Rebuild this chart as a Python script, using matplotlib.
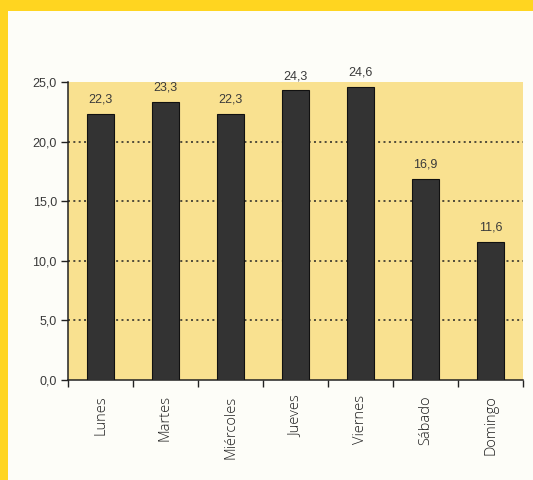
import matplotlib
matplotlib.use("Agg")
import matplotlib.pyplot as plt
from matplotlib.patches import Rectangle
from matplotlib.ticker import FixedLocator

categories = ["Lunes", "Martes", "Miércoles", "Jueves", "Viernes", "Sábado", "Domingo"]
values = [22.3, 23.3, 22.3, 24.3, 24.6, 16.9, 11.6]
y_ticks = [0, 5, 10, 15, 20, 25]

W, H = 533, 480
fig = plt.figure(figsize=(W / 100, H / 100), dpi=100)
fig.patch.set_facecolor("#FDFDF8")
# yellow frame on top and left
fig.patches.append(Rectangle((0, 0), 8 / W, 1, transform=fig.transFigure,
                             facecolor="#FFD520", edgecolor="none", zorder=0))
fig.patches.append(Rectangle((0, 1 - 11 / H), 1, 11 / H, transform=fig.transFigure,
                             facecolor="#FFD520", edgecolor="none", zorder=0))

left, right, top, bottom = 68, 523, 82, 380
ax = fig.add_axes([left / W, 1 - bottom / H, (right - left) / W, (bottom - top) / H])
ax.set_facecolor("#F9E190")

x = list(range(len(categories)))
bars = ax.bar(x, values, width=0.41, color="#333333", edgecolor="#111111", linewidth=0.8, zorder=3)

ax.set_xlim(-0.5, len(categories) - 0.5)
ax.set_ylim(0, 25)
ax.set_yticks(y_ticks)
ax.set_yticklabels([f"{v:.1f}".replace(".", ",") for v in y_ticks],
                   fontsize=9, color="#3a3a3a", family="Liberation Sans")

for yv in y_ticks[1:-1]:
    ax.axhline(yv, color="#222222", linestyle=(0, (1.3, 2.2)), linewidth=1.1, zorder=2)

ax.xaxis.set_major_locator(FixedLocator([i + 0.5 for i in range(-1, len(categories))]))
ax.xaxis.set_minor_locator(FixedLocator(x))
ax.set_xticklabels([])
ax.set_xticklabels(categories, minor=True, rotation=90, ha="center", va="top",
                   fontsize=10.5, color="#1e1e1e", family="Open Sans", fontweight="light")
ax.tick_params(axis="x", which="major", length=5, width=1, color="#222222", direction="out")
ax.tick_params(axis="x", which="minor", length=0, pad=11)
ax.tick_params(axis="y", length=5, width=1, color="#222222", direction="out", pad=3)

for s in ["top", "right"]:
    ax.spines[s].set_visible(False)
for s in ["left", "bottom"]:
    ax.spines[s].set_color("#222222")
    ax.spines[s].set_linewidth(1.1)

for xi, v in zip(x, values):
    ax.annotate(f"{v:.1f}".replace(".", ","), (xi, v), xytext=(0, 6), textcoords="offset points",
                ha="center", va="bottom", fontsize=9, color="#3a3a3a", family="Liberation Sans")

fig.savefig("out.png", dpi=100, facecolor=fig.get_facecolor())
